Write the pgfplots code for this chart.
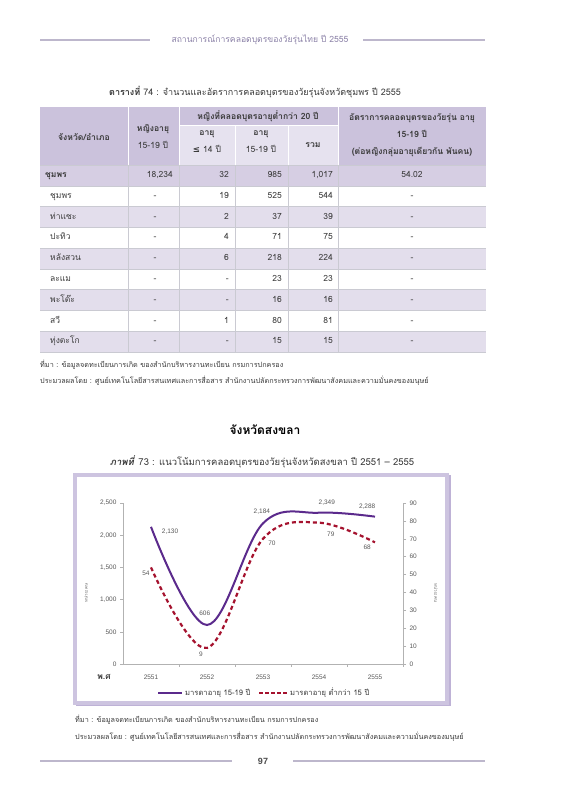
\documentclass[border=0pt]{standalone}
\usepackage{pgfplots}
\pgfplotsset{compat=1.18}
\usepackage{fontspec}
\setmainfont{Liberation Sans}
\newfontfamily\thai[Script=Thai]{Loma}
\newfontfamily\dejavu{DejaVu Sans}
\definecolor{hdr}{HTML}{CBC2DC}
\definecolor{subhdr}{HTML}{E6E2EF}
\definecolor{prov}{HTML}{D6CEE3}
\definecolor{rowshade}{HTML}{E3DEEC}
\definecolor{gridc}{HTML}{CACAD2}
\definecolor{txt}{HTML}{3A3A3A}
\definecolor{purp}{HTML}{5B2A8C}
\definecolor{redd}{HTML}{A5122E}
\definecolor{framec}{HTML}{CDC4E0}
\definecolor{frameshadow}{HTML}{BEB2D6}
\definecolor{headline}{HTML}{BDB7CC}
\definecolor{headtxt}{HTML}{8C82A8}
\pgfplotsset{myax/.style={at={(123pt,136pt)}, anchor=south west, scale only axis,
  width=280pt, height=161pt, xmin=0.5, xmax=5.5, clip=false,
  axis line style={draw=gray!60, line width=0.6pt, -},
  tick style={draw=gray!60, line width=0.5pt}, tick align=outside,
  major tick length=3pt, minor tick length=3pt,
  tick label style={font=\fontsize{6.5}{7}\selectfont, text=black!65},
  /pgf/number format/assume math mode=true, /pgf/number format/1000 sep={,}}}
\begin{document}
\begin{tikzpicture}
\path[use as bounding box, fill=white] (0,0) rectangle (566pt,800pt);
\begin{scope}[yshift=800pt, x=1pt, y=-1pt]
% page header
\draw[headline, line width=1.6pt] (40,40) -- (150,40);
\draw[headline, line width=1.6pt] (363,40) -- (485,40);
\node[text=headtxt, font=\thai\fontsize{8.6}{9}\selectfont] at (260,40) {สถานการณ์การคลอดบุตรของวัยรุ่นไทย ปี 2555};
% table title
\node[text=txt, font=\thai\fontsize{9}{10}\selectfont] at (255,92) {\textbf{ตารางที่} 74 : จำนวนและอัตราการคลอดบุตรของวัยรุ่นจังหวัดชุมพร ปี 2555};
% table fills
\fill[hdr] (40,107) rectangle (486,165);
\fill[subhdr] (179,125) rectangle (338,165);
\fill[prov] (40,165) rectangle (486,185.78);
\foreach \k in {2,4,6,8}{\fill[rowshade] (40,{165+20.78*\k}) rectangle (486,{165+20.78*(\k+1)});}
% grid
\draw[white, line width=0.8pt] (128,107) -- (128,165) (179,107) -- (179,165) (338,107) -- (338,165)
  (235,125) -- (235,165) (288,125) -- (288,165) (179,125) -- (338,125);
\foreach \k in {0,...,9}{\draw[gridc, line width=0.5pt] (40,{165+20.78*\k}) -- (486,{165+20.78*\k});}
\foreach \xx in {128,179,235,288,338}{\draw[gridc, line width=0.5pt] (\xx,165) -- (\xx,352);}
% header text
\begin{scope}[every node/.style={text=txt, font=\thai\bfseries\fontsize{8.6}{17}\selectfont, align=center}]
\node at (84,137) {จังหวัด/อำเภอ};
\node at (153,137) {หญิงอายุ\\\mdseries 15-19 ปี};
\node at (258,116) {หญิงที่คลอดบุตรอายุต่ำกว่า 20 ปี};
\node at (207,142) {อายุ\\{\dejavu ≤} \mdseries 14 ปี};
\node at (261,142) {อายุ\\\mdseries 15-19 ปี};
\node at (313,145) {รวม};
\node at (412,135) {อัตราการคลอดบุตรของวัยรุ่น อายุ\\15-19 ปี\\(ต่อหญิงกลุ่มอายุเดียวกัน พันคน)};
\end{scope}
% table body
\begin{scope}[every node/.style={text=txt, font=\thai\fontsize{8.5}{9}\selectfont, text height=6.5pt, text depth=2pt, inner sep=0pt}]
\node[anchor=west] at (45,175.4) {\bfseries ชุมพร};
\node[anchor=east] at (173,175.4) {18,234};
\node[anchor=east] at (229,175.4) {32};
\node[anchor=east] at (282,175.4) {985};
\node[anchor=east] at (333,175.4) {1,017};
\node at (412,175.4) {54.02};
\foreach \k/\n/\a/\b/\c/\d in {1/ชุมพร/-/19/525/544, 2/ท่าแซะ/-/2/37/39, 3/ปะทิว/-/4/71/75, 4/หลังสวน/-/6/218/224, 5/ละแม/-/-/23/23, 6/พะโต๊ะ/-/-/16/16, 7/สวี/-/1/80/81, 8/ทุ่งตะโก/-/-/15/15}{
  \node[anchor=west] at (50,{165+20.78*(\k+0.5)}) {\n};
  \node at (155,{165+20.78*(\k+0.5)}) {\a};
  \node[anchor=east] at (229,{165+20.78*(\k+0.5)}) {\b};
  \node[anchor=east] at (282,{165+20.78*(\k+0.5)}) {\c};
  \node[anchor=east] at (333,{165+20.78*(\k+0.5)}) {\d};
  \node at (412,{165+20.78*(\k+0.5)}) {-};
}
\end{scope}
% footnotes
\begin{scope}[every node/.style={text=txt, font=\thai\fontsize{7.25}{8}\selectfont, anchor=west, inner sep=0pt}]
\node at (40,365) {ที่มา : ข้อมูลจดทะเบียนการเกิด ของสำนักบริหารงานทะเบียน กรมการปกครอง};
\node at (40,381) {ประมวลผลโดย : ศูนย์เทคโนโลยีสารสนเทศและการสื่อสาร สำนักงานปลัดกระทรวงการพัฒนาสังคมและความมั่นคงของมนุษย์};
\node at (75,720) {ที่มา : ข้อมูลจดทะเบียนการเกิด ของสำนักบริหารงานทะเบียน กรมการปกครอง};
\node at (75,737) {ประมวลผลโดย : ศูนย์เทคโนโลยีสารสนเทศและการสื่อสาร สำนักงานปลัดกระทรวงการพัฒนาสังคมและความมั่นคงของมนุษย์};
\end{scope}
% chart titles
\node[text=black, font=\thai\bfseries\fontsize{12}{14}\selectfont] at (265,430) {จังหวัดสงขลา};
\node[text=txt, font=\thai\fontsize{9.5}{11}\selectfont] at (262,462) {\textbf{\textit{ภาพที่}} 73 : แนวโน้มการคลอดบุตรของวัยรุ่นจังหวัดสงขลา ปี 2551 – 2555};
% chart frame
\draw[frameshadow, line width=3pt] (77,477) rectangle (449,705);
\fill[white] (75,475) rectangle (447,703);
\draw[framec, line width=3.5pt] (75,475) rectangle (447,703);
% axis extras
\node[font=\thai\bfseries\fontsize{8.5}{9}\selectfont, text=txt] at (104,677) {พ.ศ};
\node[font=\thai\fontsize{4.5}{5}\selectfont, text=black!60, rotate=90] at (86,593) {หน่วย:คน};
\node[font=\thai\fontsize{4.5}{5}\selectfont, text=black!60, rotate=-90] at (436,593) {หน่วย:คน};
% legend
\draw[purp, line width=2pt] (158,693) -- (182,693);
\node[anchor=west, inner sep=1pt, font=\thai\fontsize{7.6}{8}\selectfont, text=txt] at (184,693) {มารดาอายุ 15-19 ปี};
\draw[redd, line width=2pt, dash pattern=on 3.5pt off 2.5pt] (259,693) -- (287,693);
\node[anchor=west, inner sep=1pt, font=\thai\fontsize{7.6}{8}\selectfont, text=txt] at (289,693) {มารดาอายุ ต่ำกว่า 15 ปี};
% footer
\draw[headline, line width=1.6pt] (40,761) -- (232,761);
\draw[headline, line width=1.6pt] (293,761) -- (485,761);
\node[text=black!70, font=\bfseries\fontsize{9}{10}\selectfont] at (263,761) {97};
\end{scope}
% left axis: mothers 15-19
\begin{axis}[myax, ymin=0, ymax=2500, axis x line*=bottom, axis y line*=left,
  xtick={1,2,3,4,5}, xticklabels={2551,2552,2553,2554,2555},
  major x tick style={draw=none}, minor xtick={1.5,2.5,3.5,4.5,5.5},
  x tick label style={yshift=-4pt},
  ytick={0,500,1000,1500,2000,2500}]
\addplot[color=purp, line width=2pt, smooth, tension=0.6, mark=none] coordinates {(1,2130) (2,606) (3,2184) (4,2349) (5,2288)};
\begin{scope}[every node/.style={font=\fontsize{6.5}{7}\selectfont, text=black!65}]
\node at (axis cs:1.34,2050) {2,130};
\node at (axis cs:1.96,792) {606};
\node at (axis cs:2.98,2360) {2,184};
\node at (axis cs:4.14,2500) {2,349};
\node at (axis cs:4.86,2438) {2,288};
\end{scope}
\end{axis}
% right axis: mothers under 15
\begin{axis}[myax, ymin=0, ymax=90, axis y line*=right, axis x line=none,
  ytick={0,10,20,30,40,50,60,70,80,90}]
\addplot[color=redd, line width=2.2pt, dash pattern=on 4pt off 3pt, smooth, tension=0.6, mark=none] coordinates {(1,54) (2,9) (3,70) (4,79) (5,68)};
\begin{scope}[every node/.style={font=\fontsize{6.5}{7}\selectfont, text=black!65}]
\node at (axis cs:0.91,50.9) {54};
\node at (axis cs:1.89,5.6) {9};
\node at (axis cs:3.16,67.6) {70};
\node at (axis cs:4.21,72.7) {79};
\node at (axis cs:4.86,65.4) {68};
\end{scope}
\end{axis}
\end{tikzpicture}
\end{document}
